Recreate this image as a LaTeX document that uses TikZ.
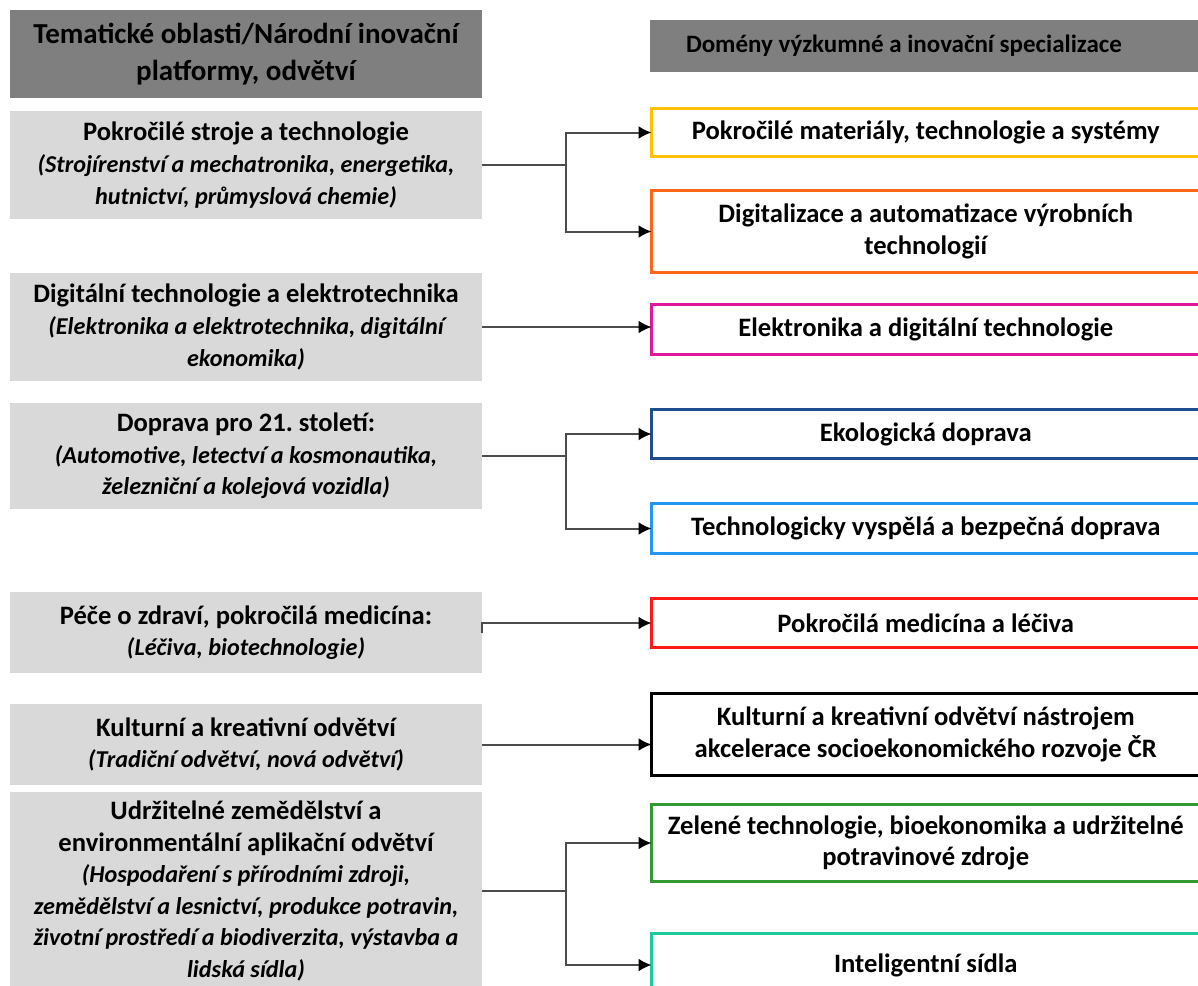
\documentclass[tikz,border=0pt]{standalone}
\usepackage{fontspec}
\setmainfont{Carlito}
\usetikzlibrary{arrows.meta}
\definecolor{hdrgray}{HTML}{7F7F7F}
\definecolor{areagray}{HTML}{D9D9D9}
\definecolor{cyellow}{HTML}{FFC000}
\definecolor{corange}{HTML}{FF661A}
\definecolor{cmagenta}{HTML}{E0189B}
\definecolor{cnavy}{HTML}{1F4E8C}
\definecolor{cblue}{HTML}{2196F3}
\definecolor{cred}{HTML}{FF1A1A}
\definecolor{cgreen}{HTML}{339933}
\definecolor{cteal}{HTML}{1ECC9B}
\newcommand{\detail}[1]{{\fontsize{12.1}{15.8}\selectfont\itshape #1}}
\frenchspacing
\begin{document}
\begin{tikzpicture}[x=0.5pt, y=-0.5pt,
  >={Latex[length=6.5pt,width=6.5pt,color=black]},
  every node/.style={inner sep=0pt, outer sep=0pt, align=center,
    font=\fontsize{13.3}{15.8}\selectfont\bfseries},
  area/.style={fill=areagray, minimum width=236pt},
  dom/.style={draw=#1, fill=white, line width=1.5pt, minimum width=274.25pt},
  conn/.style={draw=black!70, line width=1pt}]
\useasboundingbox (0,0) rectangle (1198,985);

\node[fill=hdrgray, minimum width=236pt, minimum height=44pt,
  font=\fontsize{14.5}{18.5}\selectfont\bfseries] (hl) at (246,54)
  {Tematické oblasti/Národní inovační\\platformy, odvětví};
\node[fill=hdrgray, minimum height=26pt, text width=238pt, inner xsep=18pt,
  align=flush left, font=\fontsize{12.5}{15}\selectfont\bfseries] (hr) at (924,46)
  {Domény výzkumné a inovační specializace};

\node[area, minimum height=54pt] (a1) at (246,165)
  {Pokročilé stroje a technologie\\
   \detail{(Strojírenství a mechatronika, energetika,}\\
   \detail{hutnictví, průmyslová chemie)}};
\node[area, minimum height=54pt] (a2) at (246,327)
  {Digitální technologie a elektrotechnika\\
   \detail{(Elektronika a elektrotechnika, digitální}\\
   \detail{ekonomika)}};
\node[area, minimum height=53pt] (a3) at (246,456)
  {Doprava pro 21. století:\\
   \detail{(Automotive, letectví a kosmonautika,}\\
   \detail{železniční a kolejová vozidla)}};
\node[area, minimum height=40.5pt] (a4) at (246,632.5)
  {Péče o zdraví, pokročilá medicína:\\
   \detail{(Léčiva, biotechnologie)}};
\node[area, minimum height=40.5pt] (a5) at (246,744.5)
  {Kulturní a kreativní odvětví\\
   \detail{(Tradiční odvětví, nová odvětví)}};
\node[area, minimum height=99pt] (a6) at (246,891)
  {Udržitelné zemědělství a\\
   environmentální aplikační odvětví\\
   \detail{(Hospodaření s přírodními zdroji,}\\
   \detail{zemědělství a lesnictví, produkce potravin,}\\
   \detail{životní prostředí a biodiverzita, výstavba a}\\
   \detail{lidská sídla)}};

\node[dom=cyellow, minimum height=24pt] (d1) at (925.75,132.5)
  {Pokročilé materiály, technologie a systémy};
\node[dom=corange, minimum height=41pt] (d2) at (925.75,231.5)
  {Digitalizace a automatizace výrobních\\technologií};
\node[dom=cmagenta, minimum height=25pt] (d3) at (925.75,329.5)
  {Elektronika a digitální technologie};
\node[dom=cnavy, minimum height=24.5pt] (d4) at (925.75,434)
  {Ekologická doprava};
\node[dom=cblue, minimum height=25pt] (d5) at (925.75,528.5)
  {Technologicky vyspělá a bezpečná doprava};
\node[dom=cred, minimum height=24.5pt] (d6) at (925.75,623)
  {Pokročilá medicína a léčiva};
\node[dom=black, minimum height=41pt] (d7) at (925.75,734.5)
  {Kulturní a kreativní odvětví nástrojem\\akcelerace socioekonomického rozvoje ČR};
\node[dom=cgreen, minimum height=38.5pt] (d8) at (925.75,843)
  {Zelené technologie, bioekonomika a udržitelné\\potravinové zdroje};
\node[dom=cteal, minimum height=31.5pt] (d9) at (925.75,965)
  {Inteligentní sídla};

\coordinate (j1) at (566,165);
\coordinate (j3) at (566,456);
\coordinate (j6) at (566,891);

\draw[conn] (a1.east) -- (j1);
\draw[conn, ->] (j1) |- (d1);
\draw[conn, ->] (j1) |- (d2);
\draw[conn, ->] (a2.east) -- (a2.east -| d3.west);
\draw[conn] (a3.east) -- (j3);
\draw[conn, ->] (j3) |- (d4);
\draw[conn, ->] (j3) |- (d5);
\draw[conn, ->] (a4.east) |- (d6);
\draw[conn, ->] (a5.east) -- (a5.east -| d7.west);
\draw[conn] (a6.east) -- (j6);
\draw[conn, ->] (j6) |- (d8);
\draw[conn, ->] (j6) |- (d9);
\end{tikzpicture}
\end{document}
